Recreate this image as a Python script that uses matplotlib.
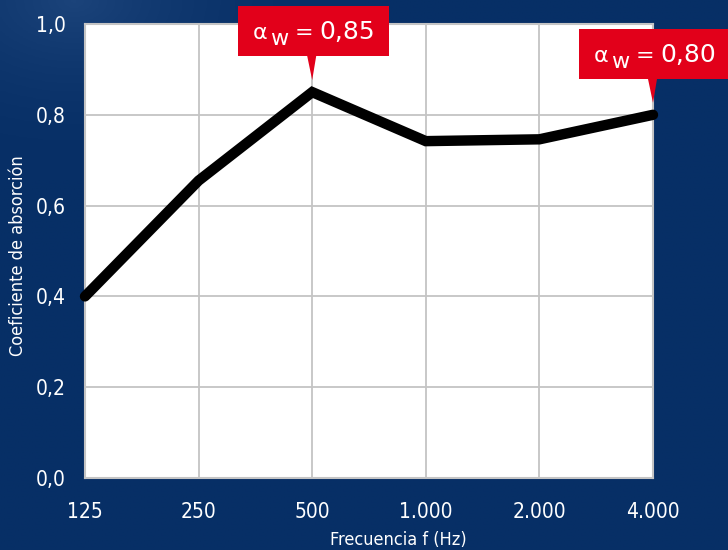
import numpy as np
import matplotlib
matplotlib.use('Agg')
import matplotlib.pyplot as plt
from matplotlib.patches import Polygon, Rectangle

# datos
frecuencias = ['125', '250', '500', '1.000', '2.000', '4.000']
absorcion = [0.40, 0.655, 0.85, 0.742, 0.746, 0.80]
y_ticks = [0.0, 0.2, 0.4, 0.6, 0.8, 1.0]
y_tick_labels = ['0,0', '0,2', '0,4', '0,6', '0,8', '1,0']

fondo = '#072f66'
rojo = '#e2001a'
W, H = 728, 550
fuente = dict(family='DejaVu Sans', stretch='condensed')

fig = plt.figure(figsize=(W / 100, H / 100), dpi=100)
fig.patch.set_facecolor(fondo)

# fondo con un brillo suave arriba a la izquierda
bg = fig.add_axes([0, 0, 1, 1], zorder=-10)
yy, xx = np.mgrid[0:1:200j, 0:1:260j]
d = np.sqrt((xx - 0.1) ** 2 + (yy - 0.0) ** 2 * 1.5)
luz = np.clip(1 - d / 0.4, 0, 1) ** 2 * 0.08
base = np.array([7, 47, 102]) / 255.0
img = base[None, None, :] + luz[:, :, None]
bg.imshow(np.clip(img, 0, 1), aspect='auto', extent=[0, 1, 1, 0])
bg.set_axis_off()

ax = fig.add_axes([85 / W, (H - 478) / H, (653 - 85) / W, (478 - 24) / H])
ax.set_facecolor('white')
x = np.arange(len(frecuencias))
ax.plot(x, absorcion, color='black', linewidth=7.5, solid_capstyle='round',
        solid_joinstyle='miter', zorder=3, clip_on=False)

ax.set_xlim(0, len(frecuencias) - 1)
ax.set_ylim(0, 1.0)
ax.set_xticks(x)
ax.set_xticklabels(frecuencias, **fuente)
ax.set_yticks(y_ticks)
ax.set_yticklabels(y_tick_labels, **fuente)
ax.grid(True, color='#c4c4c4', linewidth=1.3)
ax.set_axisbelow(True)
for s in ax.spines.values():
    s.set_color('#c4c4c4')
    s.set_linewidth(1.5)
ax.tick_params(length=0, colors='white', labelsize=15)
ax.tick_params(axis='x', pad=17)
ax.tick_params(axis='y', pad=14)

fig.text(398 / W, 1 - 540 / H, 'Frecuencia f (Hz)', color='white', fontsize=13,
         ha='center', va='center', **fuente)
fig.text(18 / W, 1 - 256 / H, 'Coeficiente de absorción', color='white', fontsize=13,
         ha='center', va='center', rotation=90, **fuente)


# etiquetas rojas con flecha
def etiqueta(i, texto, caja):
    x0, y0, x1, y1 = caja  # pixeles de la figura, y desde arriba
    fx = lambda v: v / W
    fy = lambda v: 1 - v / H
    fig.patches.append(Rectangle((fx(x0), fy(y1)), fx(x1 - x0), fy(y0) - fy(y1),
                                 transform=fig.transFigure, facecolor=rojo,
                                 edgecolor='none', zorder=5))
    px, py = ax.transData.transform((i, absorcion[i]))
    punta = H - py - 12
    fig.patches.append(Polygon([(fx(px - 5), fy(y1)), (fx(px + 4), fy(y1)), (fx(px), fy(punta))],
                               closed=True, transform=fig.transFigure, facecolor=rojo,
                               edgecolor='none', zorder=5))
    base_y = y0 + 33
    estilo = dict(color='white', va='baseline', ha='left', zorder=6, family='DejaVu Sans')
    fig.text(fx(x0 + 15), fy(base_y), 'α', fontsize=16, **estilo)
    fig.text(fx(x0 + 32), fy(base_y + 6), 'w', fontsize=16, **estilo)
    fig.text(fx(x0 + 57), fy(base_y), '=', fontsize=16, **estilo)
    fig.text(fx(x0 + 81), fy(base_y), texto, fontsize=18, **estilo)


fig.canvas.draw()
etiqueta(2, '0,85', (238, 6, 389, 56))
etiqueta(5, '0,80', (579, 29, 728, 79))

fig.savefig('out.png', dpi=100, facecolor=fig.get_facecolor())
